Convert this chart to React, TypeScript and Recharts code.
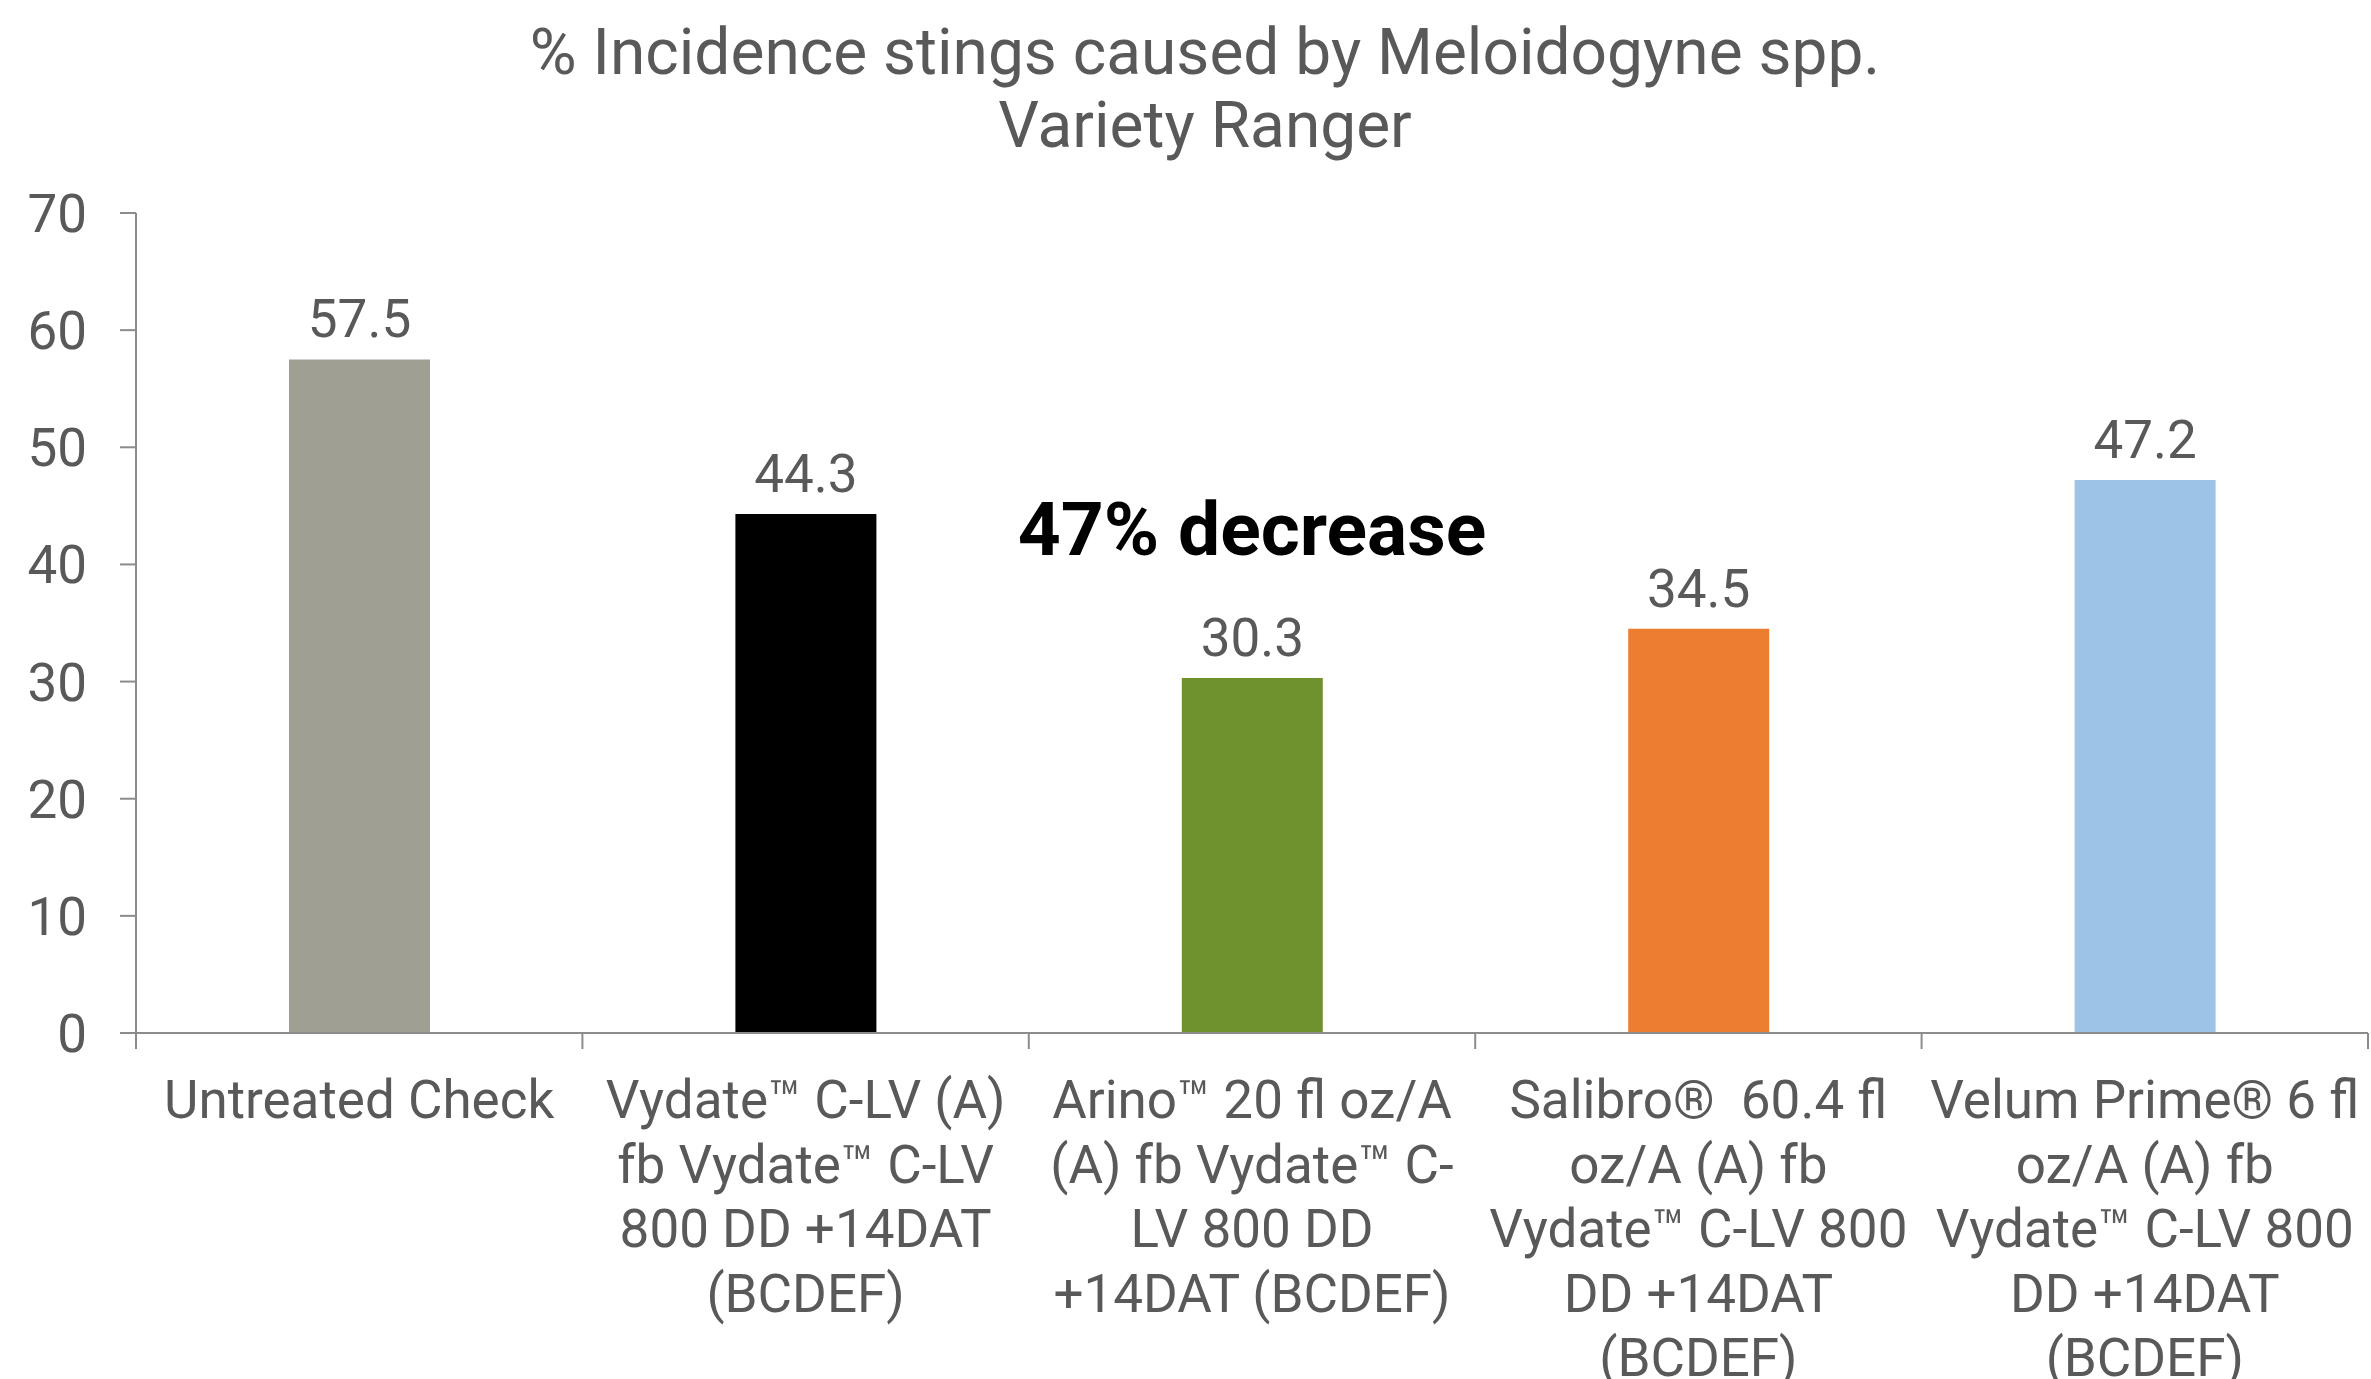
import React from "react";
import { Bar, BarChart, Cell, LabelList, ReferenceDot, XAxis, YAxis } from "recharts";

const categories = [
  "Untreated Check",
  "Vydate C-LV fb Vydate C-LV",
  "Arino fb Vydate C-LV",
  "Salibro fb Vydate C-LV",
  "Velum Prime fb Vydate C-LV"
];

const tickLines: string[][] = [
  ["Untreated Check"],
  ["Vydate™ C-LV (A)", "fb Vydate™ C-LV", "800 DD +14DAT", "(BCDEF)"],
  ["Arino™ 20 fl oz/A", "(A) fb Vydate™ C-", "LV 800 DD", "+14DAT (BCDEF)"],
  ["Salibro®  60.4 fl", "oz/A (A) fb", "Vydate™ C-LV 800", "DD +14DAT", "(BCDEF)"],
  ["Velum Prime® 6 fl", "oz/A (A) fb", "Vydate™ C-LV 800", "DD +14DAT", "(BCDEF)"]
];

const incidence = [57.5, 44.3, 30.3, 34.5, 47.2];
const barColors = ["#a09f93", "#000000", "#6f912e", "#ed7d31", "#9dc3e6"];
const yTicks = [0, 10, 20, 30, 40, 50, 60, 70];

const titleLines = ["% Incidence stings caused by Meloidogyne spp.", "Variety Ranger"];
const annotation = "47% decrease";
const annotationAt = { category: categories[2], value: 43 };

const data = categories.map((name, i) => ({ name, value: incidence[i] }));

const W = 2371;
const H = 1379;
const TEXT = "#595959";
const AXIS = "#8c8c8c";
const FONT = "Roboto, 'Noto Sans', sans-serif";
const LABEL_SIZE = 53;
const BAND = (W - 136 - 3) / categories.length;

function XTick(props: any) {
  const { x, y, index } = props;
  const lines = tickLines[index] || [];
  const left = x - BAND / 2;
  return (
    <g>
      <line x1={left} y1={y} x2={left} y2={y + 16} stroke={AXIS} strokeWidth={2} />
      {index === categories.length - 1 && (
        <line x1={x + BAND / 2} y1={y} x2={x + BAND / 2} y2={y + 16} stroke={AXIS} strokeWidth={2} />
      )}
      <text textAnchor="middle" fill={TEXT} fontSize={LABEL_SIZE} fontFamily={FONT}>
        {lines.map((line, i) => (
          <tspan key={i} x={x} y={y + 85 + i * 64.5} style={{ whiteSpace: "pre" }}>
            {line}
          </tspan>
        ))}
      </text>
    </g>
  );
}

function YTick(props: any) {
  const { x, y, payload } = props;
  return (
    <text x={x} y={y + 19} textAnchor="end" fill={TEXT} fontSize={LABEL_SIZE} fontFamily={FONT}>
      {payload.value}
    </text>
  );
}

function ValueLabel(props: any) {
  const { x, y, width, value } = props;
  return (
    <text x={x + width / 2} y={y - 22} textAnchor="middle" fill={TEXT} fontSize={LABEL_SIZE} fontFamily={FONT}>
      {Number(value).toFixed(1)}
    </text>
  );
}

function AnnotationLabel(props: any) {
  const { viewBox } = props;
  return (
    <text
      x={viewBox.x}
      y={viewBox.y + 26}
      textAnchor="middle"
      fill="#000000"
      fontSize={75}
      fontWeight={700}
      fontFamily={FONT}
    >
      {annotation}
    </text>
  );
}

export default function App() {
  return (
    <div style={{ position: "absolute", left: 0, top: 0, width: W, height: H, background: "#fff", fontFamily: FONT }}>
      {titleLines.map((t, i) => (
        <div
          key={t}
          style={{
            position: "absolute",
            left: 1205,
            top: 17 + i * 73,
            transform: "translateX(-50%)",
            whiteSpace: "nowrap",
            fontSize: 64,
            lineHeight: "72px",
            color: TEXT
          }}
        >
          {t}
        </div>
      ))}
      <BarChart
        width={W}
        height={H}
        data={data}
        margin={{ top: 213, right: 3, bottom: 0, left: 0 }}
        barCategoryGap={0}
      >
        <XAxis
          dataKey="name"
          height={346}
          interval={0}
          tick={<XTick />}
          tickLine={false}
          tickSize={0}
          tickMargin={0}
          axisLine={{ stroke: AXIS, strokeWidth: 2 }}
        />
        <YAxis
          width={136}
          domain={[0, 70]}
          ticks={yTicks}
          interval={0}
          tick={<YTick />}
          tickSize={16}
          tickMargin={33}
          tickLine={{ stroke: AXIS, strokeWidth: 2 }}
          axisLine={{ stroke: AXIS, strokeWidth: 2 }}
        />
        <Bar dataKey="value" barSize={141} isAnimationActive={false}>
          {data.map((d, i) => (
            <Cell key={d.name} fill={barColors[i]} />
          ))}
          <LabelList dataKey="value" content={<ValueLabel />} />
        </Bar>
        <ReferenceDot
          x={annotationAt.category}
          y={annotationAt.value}
          r={0}
          fill="none"
          stroke="none"
          label={<AnnotationLabel />}
        />
      </BarChart>
    </div>
  );
}
